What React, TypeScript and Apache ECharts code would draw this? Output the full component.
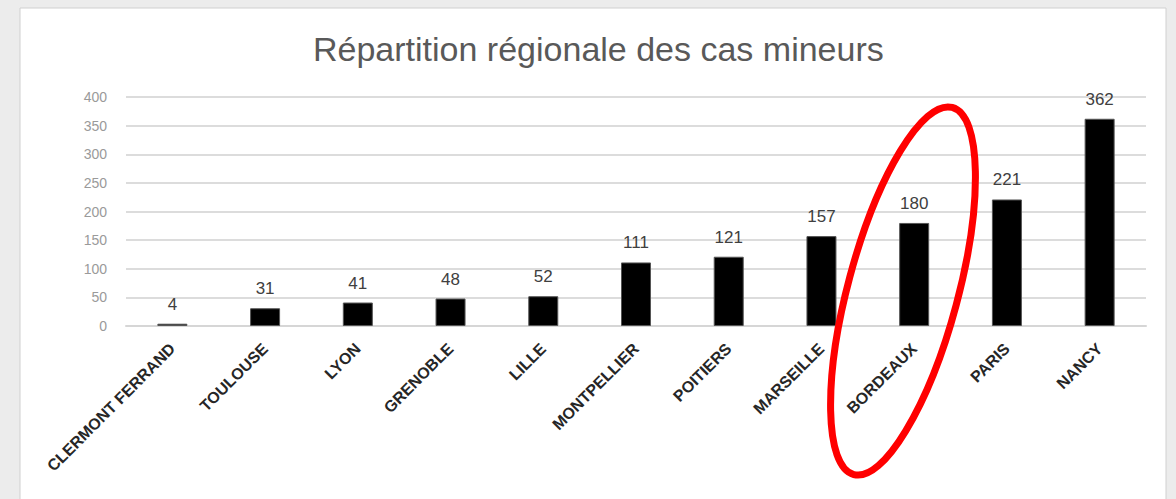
import React, { useEffect, useRef } from "react";
import * as echarts from "echarts";

const TITLE = "Répartition régionale des cas mineurs";
const categories = [
  "CLERMONT FERRAND",
  "TOULOUSE",
  "LYON",
  "GRENOBLE",
  "LILLE",
  "MONTPELLIER",
  "POITIERS",
  "MARSEILLE",
  "BORDEAUX",
  "PARIS",
  "NANCY",
];
const values = [4, 31, 41, 48, 52, 111, 121, 157, 180, 221, 362];
const yTicks = { min: 0, max: 400, interval: 50 };

export default function App() {
  const ref = useRef<HTMLDivElement>(null);
  useEffect(() => {
    if (!ref.current) return;
    const chart = echarts.init(ref.current, undefined, { renderer: "svg" });
    chart.setOption({
      animation: false,
      backgroundColor: "#ffffff",
      title: {
        text: TITLE,
        left: 308,
        top: 27,
        textStyle: {
          fontFamily: "Liberation Sans",
          fontSize: 34,
          fontWeight: "normal",
          color: "#595959",
        },
      },
      graphic: [
        {
          type: "rect",
          z: -10,
          silent: true,
          shape: { x: 0, y: 0, width: 1176, height: 499 },
          style: { fill: "#ececec" },
        },
        {
          type: "rect",
          z: -9,
          silent: true,
          shape: { x: 20, y: 8, width: 1146, height: 500 },
          style: { fill: "#ffffff", stroke: "#d0d0d0", lineWidth: 1 },
        },
        {
          type: "ellipse",
          z: 100,
          silent: true,
          x: 903,
          y: 291,
          rotation: (-15 * Math.PI) / 180,
          shape: { cx: 0, cy: 0, rx: 55, ry: 190 },
          style: { fill: "none", stroke: "#ff0000", lineWidth: 7 },
        },
      ],
      grid: { left: 126, right: 30, top: 97, bottom: 173 },
      xAxis: {
        type: "category",
        data: categories,
        axisLine: { show: true, lineStyle: { color: "#d6d6d6", width: 2 } },
        axisTick: { show: false },
        axisLabel: {
          rotate: 45,
          interval: 0,
          margin: 20,
          fontFamily: "Liberation Sans",
          fontWeight: "bold",
          fontSize: 16,
          color: "#262626",
        },
      },
      yAxis: {
        type: "value",
        min: yTicks.min,
        max: yTicks.max,
        interval: yTicks.interval,
        axisLine: { show: false },
        axisTick: { show: false },
        axisLabel: {
          fontFamily: "Liberation Sans",
          fontSize: 14,
          color: "#9a9a9a",
          margin: 19,
        },
        splitLine: { lineStyle: { color: "#dcdcdc", width: 2 } },
      },
      series: [
        {
          type: "bar",
          data: values,
          barWidth: 30,
          itemStyle: { color: "#000000", borderColor: "#555555", borderWidth: 1 },
          label: {
            show: true,
            position: "top",
            distance: 11,
            fontFamily: "Liberation Sans",
            fontSize: 17,
            color: "#404040",
          },
        },
      ],
    });
    return () => chart.dispose();
  }, []);
  return (
    <div
      ref={ref}
      style={{ position: "fixed", left: 0, top: 0, width: 1176, height: 499 }}
    />
  );
}
